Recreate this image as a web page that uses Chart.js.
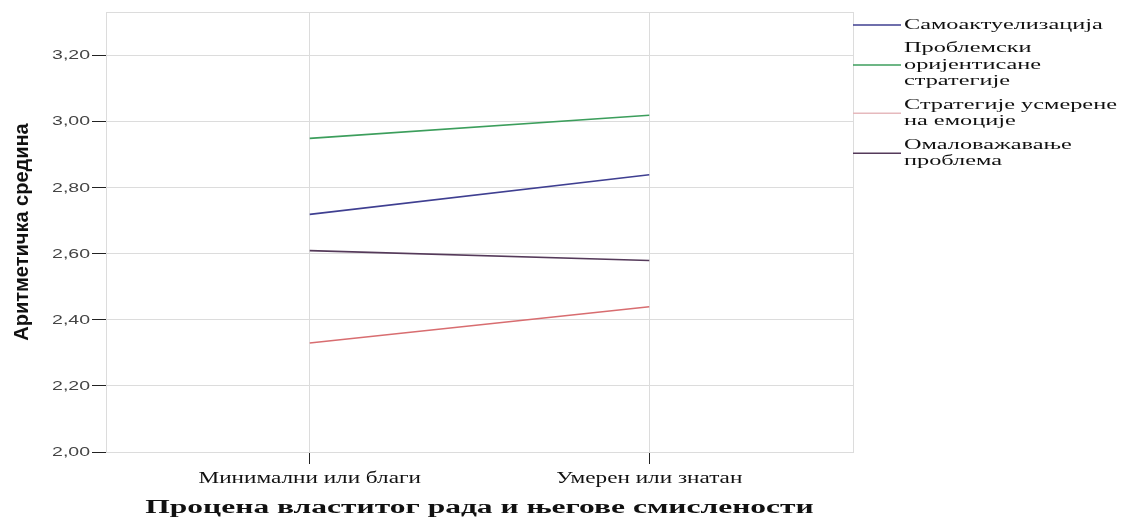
<!DOCTYPE html>
<html>
<head>
<meta charset="utf-8">
<script src="https://cdn.jsdelivr.net/npm/chart.js@4.4.1/dist/chart.umd.min.js"></script>
<style>
    html, body { margin: 0; padding: 0; background: #fff; }
    #wrap { width: 1127px; height: 523px; position: relative; }
</style>
</head>
<body>
<div id="wrap"><canvas id="meansChart"></canvas></div>
<script>
// ===================================================================
// Profile plot: means of coping strategies by self-assessment of work
// ===================================================================

const categories = ['Минимални или благи', 'Умерен или знатан'];
const seriesNames = [
    'Самоактуелизација',
    'Проблемски оријентисане стратегије',
    'Стратегије усмерене на емоције',
    'Омаловажавање проблема'
];
// legend text is wrapped the way the reference wraps it
const legendLines = [
    ['Самоактуелизација'],
    ['Проблемски', 'оријентисане', 'стратегије'],
    ['Стратегије усмерене', 'на емоције'],
    ['Омаловажавање', 'проблема']
];
const selfActualization = [2.72, 2.84];
const problemFocused = [2.95, 3.02];
const emotionFocused = [2.33, 2.44];
const minimizing = [2.61, 2.58];
const yTicks = [2.0, 2.2, 2.4, 2.6, 2.8, 3.0, 3.2];
const xTitle = 'Процена властитог рада и његове смислености';
const yTitle = 'Аритметичка средина';

const seriesValues = [selfActualization, problemFocused, emotionFocused, minimizing];
const seriesColors = ['#3f3f91', '#3c9e5c', '#d86d70', '#553a5a'];
const legendColors = ['#3f3f91', '#3c9e5c', '#e6b9bd', '#553a5a'];

const gridGray = '#dcdcdc';
const SERIF = '"Liberation Serif", "DejaVu Serif", serif';
const SANS = '"Liberation Sans", Arial, sans-serif';

// the reference text is stretched sideways, so draw it with a horizontal scale
function stretchedText(ctx, text, x, y, sx, align) {
    ctx.save();
    ctx.translate(x, y);
    ctx.scale(sx, 1);
    ctx.textAlign = align;
    ctx.fillText(text, 0, 0);
    ctx.restore();
}

const framePlugin = {
    id: 'framePlugin',
    beforeDatasetsDraw(chart) {
        const { ctx, chartArea: a } = chart;
        ctx.save();
        ctx.strokeStyle = gridGray;
        ctx.lineWidth = 1;
        ctx.strokeRect(a.left + 0.5, a.top + 0.5, a.right - a.left, a.bottom - a.top);
        ctx.restore();
    },
    afterDraw(chart) {
        const { ctx, chartArea: a, scales } = chart;
        ctx.save();
        ctx.textBaseline = 'middle';

        // y tick labels
        ctx.font = '13px ' + SANS;
        ctx.fillStyle = '#444';
        yTicks.forEach(v => {
            stretchedText(ctx, v.toFixed(2).replace('.', ','), 90, scales.y.getPixelForValue(v), 1.5, 'right');
        });

        // x tick labels
        ctx.font = '16px ' + SERIF;
        ctx.fillStyle = '#111';
        categories.forEach((c, k) => {
            stretchedText(ctx, c, scales.x.getPixelForValue(k), 479, 1.45, 'center');
        });

        // x title
        ctx.font = 'bold 18px ' + SERIF;
        stretchedText(ctx, xTitle, (a.left + a.right) / 2, 508, 1.75, 'center');

        // y title
        ctx.save();
        ctx.translate(22, (a.top + a.bottom) / 2);
        ctx.rotate(-Math.PI / 2);
        ctx.font = 'bold 20px ' + SANS;
        ctx.textAlign = 'center';
        ctx.fillText(yTitle, 0, 0);
        ctx.restore();

        // legend: line joined to the frame, text block centred on it
        ctx.font = '15px ' + SERIF;
        const lineH = 16.5;
        let top = 25;
        legendLines.forEach((lines, i) => {
            const mid = top + (lines.length - 1) * lineH / 2;
            ctx.strokeStyle = legendColors[i];
            ctx.lineWidth = 1.5;
            ctx.beginPath();
            ctx.moveTo(a.right, mid);
            ctx.lineTo(a.right + 48, mid);
            ctx.stroke();
            lines.forEach((t, j) => {
                stretchedText(ctx, t, a.right + 51, top + j * lineH, 1.62, 'left');
            });
            top += lines.length * lineH + 7;
        });
        ctx.restore();
    }
};

function initMeansChart() {
    const canvas = document.getElementById('meansChart');
    if (!canvas) return;

    new Chart(canvas.getContext('2d'), {
        type: 'line',
        data: {
            datasets: seriesNames.map((name, i) => ({
                label: name,
                data: seriesValues[i].map((v, k) => ({ x: k, y: v })),
                borderColor: seriesColors[i],
                backgroundColor: seriesColors[i],
                borderWidth: 1.6,
                pointRadius: 0,
                tension: 0
            }))
        },
        options: {
            responsive: true,
            maintainAspectRatio: false,
            animation: false,
            layout: { padding: { top: 12, right: 274, left: 0, bottom: 0 } },
            plugins: {
                legend: { display: false },
                tooltip: { enabled: false }
            },
            scales: {
                x: {
                    type: 'linear',
                    min: -0.6,
                    max: 1.6,
                    afterBuildTicks: s => { s.ticks = categories.map((c, k) => ({ value: k })); },
                    afterFit: s => { s.height = 71; },
                    ticks: { display: false },
                    grid: { color: gridGray, tickColor: '#222', tickLength: 12, drawTicks: true },
                    border: { color: gridGray }
                },
                y: {
                    min: 2.0,
                    max: 3.333,
                    afterBuildTicks: s => { s.ticks = yTicks.map(v => ({ value: v })); },
                    afterFit: s => { s.width = 106; },
                    ticks: { display: false },
                    grid: { color: gridGray, tickColor: '#222', tickLength: 14, drawTicks: true },
                    border: { color: gridGray }
                }
            }
        },
        plugins: [framePlugin]
    });
}

document.addEventListener('DOMContentLoaded', initMeansChart);
</script>
</body>
</html>
